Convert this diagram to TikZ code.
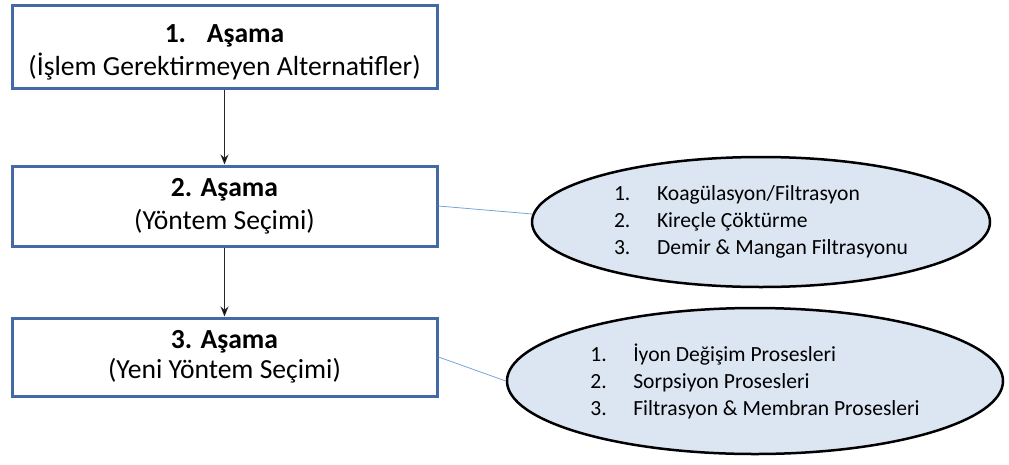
\documentclass[tikz,border=0pt]{standalone}
\usepackage{fontspec}
\setmainfont{Carlito}
\usetikzlibrary{arrows.meta,positioning,shapes.geometric}
\definecolor{stageblue}{RGB}{68,106,165}
\definecolor{listfill}{RGB}{220,230,242}
\definecolor{linkblue}{RGB}{120,165,215}
\definecolor{arrowgray}{RGB}{40,40,40}

\begin{document}
\begin{tikzpicture}[x=1pt,y=-1pt,->,>={Stealth[length=10pt,width=8pt]},node distance=75pt,
  main node/.style={rectangle,draw=stageblue,line width=3pt,fill=white,minimum width=425pt,align=center,inner sep=0pt,font=\fontsize{27.6}{33}\selectfont},
  list node/.style={ellipse,draw=black,line width=2.5pt,fill=listfill,align=left,inner sep=0pt,font=\fontsize{21.6}{27}\selectfont}]

  \useasboundingbox (0,0) rectangle (1009,464);

  \node[main node,minimum height=83pt] (1) at (224.5,46.5) {\rule{0pt}{30pt}\textbf{1.\hspace{0.75em}Aşama}\\(İşlem Gerektirmeyen Alternatifler)};
  \node[main node,minimum height=80pt] (2) [below=75pt of 1] {\textbf{2. Aşama}\\(Yöntem Seçimi)};
  \node[main node,minimum height=78pt,font=\fontsize{27.6}{30}\selectfont] (3) [below=69pt of 2] {\textbf{3. Aşama}\\(Yeni Yöntem Seçimi)};

  \node[list node,minimum width=458pt,minimum height=130pt] (4) at (761,222) {\makebox[43pt][l]{1.}Koagülasyon/Filtrasyon\\\makebox[43pt][l]{2.}Kireçle Çöktürme\\\makebox[43pt][l]{3.}Demir \& Mangan Filtrasyonu};
  \node[list node,minimum width=496pt,minimum height=146pt] (5) at (755,381) {\makebox[43pt][l]{1.}İyon Değişim Prosesleri\\\makebox[43pt][l]{2.}Sorpsiyon Prosesleri\\\makebox[43pt][l]{3.}Filtrasyon \& Membran Prosesleri};

  \path[draw=arrowgray,line width=1pt]
    (1) edge (2)
    (2) edge (3);
  \path
    (2.east) edge[-,draw=linkblue,line width=0.8pt] (4.178)
    (3.east) edge[-,draw=linkblue,line width=0.8pt] (5.west);

\end{tikzpicture}
\end{document}
